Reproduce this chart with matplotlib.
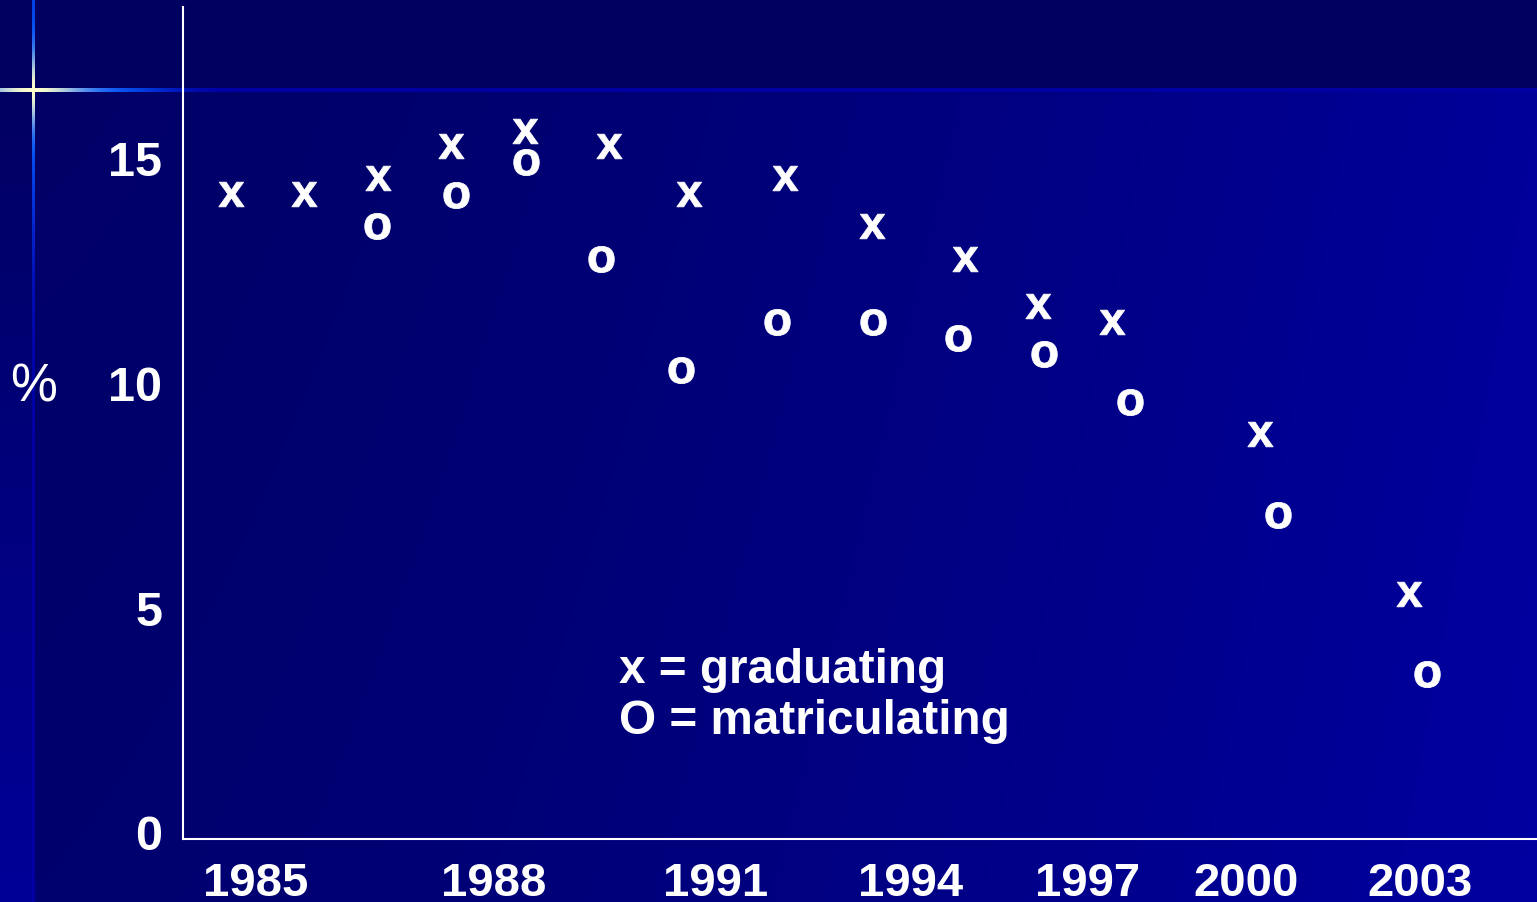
import numpy as np
import matplotlib
matplotlib.use('Agg')
import matplotlib.pyplot as plt

plt.rcParams['font.family'] = ['Liberation Sans', 'DejaVu Sans']
plt.rcParams['mathtext.fontset'] = 'custom'
plt.rcParams['mathtext.bf'] = 'Liberation Sans:bold'

# data (x in year units as placed on the slide, y in %)
grad_x = [1985.0, 1986.0, 1987.0, 1988.0, 1989.0, 1990.14, 1991.23,
          1992.54, 1993.72, 1994.99, 1995.98, 1996.99, 1999.0, 2001.03]
grad_y = [14.19, 14.19, 14.56, 15.27, 15.61, 15.26, 14.20,
          14.56, 13.49, 12.76, 11.71, 11.35, 8.86, 5.30]

matr_x = [1986.99, 1988.06, 1989.01, 1990.03, 1991.12, 1992.43,
          1993.73, 1994.89, 1996.06, 1997.23, 1999.24, 2001.27]
matr_y = [13.49, 14.18, 14.91, 12.76, 10.28, 11.35,
          11.35, 10.99, 10.64, 9.57, 7.06, 3.51]

year_labels = ['1985', '1988', '1991', '1994', '1997', '2000', '2003']
year_pos = [1985.33, 1988.58, 1991.60, 1994.24, 1996.65, 1998.81, 2001.18]
y_ticks = [0, 5, 10, 15]

W, H = 1537, 903

# slide background
yy, xx = np.mgrid[0:H, 0:W].astype(float)
blue = 0x66 + (0x99 - 0x66) * (xx / W) ** 1.5 + 8 * (yy / H)
blue[yy < 92] = 0x60
strip = (xx < 33) & (yy >= 92)
blue[strip] = (0x62 + (0x98 - 0x62) * ((yy - 92) / (H - 92)))[strip]
bg = np.zeros((H, W, 3))
bg[..., 2] = blue / 255.0

pale = np.array([1.0, 1.0, 0.8])
bright = np.array([0.0, 0.35, 1.0])
dim = np.array([0.0, 0.0, 0.64])


def glow(d, s1, s2, p):
    w1 = np.exp(-(d / s1) ** 2)[:, None]
    w2 = np.exp(-(d / s2) ** p)[:, None]
    col = dim * (1 - w2) + bright * w2
    return col * (1 - w1) + pale * w1


# vertical glow line
dv = np.abs(np.arange(H) - 90.0)
cv = glow(dv, 35, 150, 2)
for c in (32, 33, 34):
    bg[:, c, :] = cv
# horizontal glow line
dh = np.abs(np.arange(W) - 33.0)
ch = glow(dh, 50, 135, 4)
for r in (89, 90, 91, 92):
    bg[r, :, :] = ch

fig = plt.figure(figsize=(W / 100, H / 100), dpi=100)
bg_ax = fig.add_axes([0, 0, 1, 1])
bg_ax.imshow(bg, aspect='auto', interpolation='bilinear')
bg_ax.axis('off')

ax = fig.add_axes([183 / W, (H - 840) / H, (W - 183) / W, (840 - 8) / H])
ax.set_facecolor('none')
ax.set_xlim(1984.347, 2002.769)
ax.set_ylim(-0.156, 18.36)

ax.plot(grad_x, grad_y, linestyle='none', marker=r'$\mathbf{x}$',
        markersize=18.2, markeredgewidth=0.6, color='white')
ax.plot(matr_x, matr_y, linestyle='none', marker=r'$\mathbf{o}$',
        markersize=18.9, markeredgewidth=0.6, color='white')

for s in ['top', 'right']:
    ax.spines[s].set_visible(False)
for s in ['left', 'bottom']:
    ax.spines[s].set_color('white')
    ax.spines[s].set_linewidth(1.5)

ax.set_yticks(y_ticks)
ax.set_yticklabels([str(v) for v in y_ticks], fontsize=35, fontweight='bold', color='white')
ax.set_xticks(year_pos)
ax.set_xticklabels(year_labels, fontsize=34, fontweight='bold', color='white')
ax.tick_params(axis='y', length=0, pad=15)
ax.tick_params(axis='x', length=0, pad=16)

ax.set_ylabel('%', rotation=0, fontsize=38, color='white', ha='center', va='baseline')
ax.yaxis.set_label_coords((34 - 183) / (W - 183), (840 - 401) / 832)

fig.text(619 / W, 1 - 683 / H, 'x = graduating', fontsize=34.3, fontweight='bold',
         color='white', va='baseline')
fig.text(619 / W, 1 - 734 / H, 'O = matriculating', fontsize=34.3, fontweight='bold',
         color='white', va='baseline')

fig.savefig('out.png', dpi=100)
